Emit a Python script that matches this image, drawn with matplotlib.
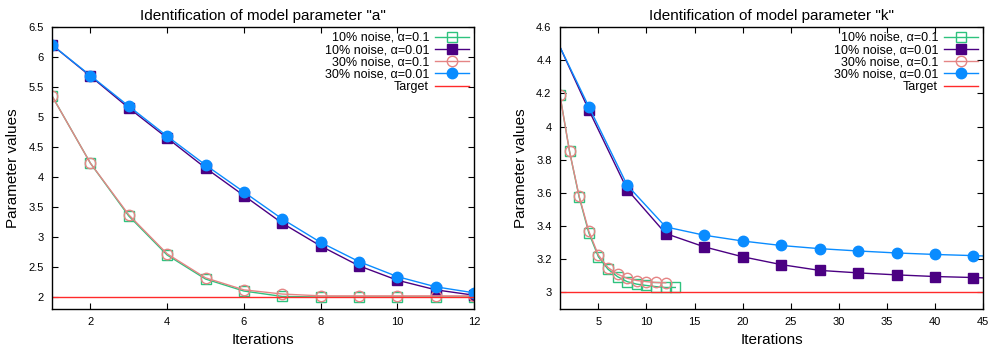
import matplotlib
matplotlib.use("Agg")
import matplotlib.pyplot as plt

plt.rcParams['font.family'] = ['Liberation Sans', 'DejaVu Sans']

labels = ["10% noise, α=0.1", "10% noise, α=0.01", "30% noise, α=0.1", "30% noise, α=0.01"]
colors = ["#2ec27e", "#4b0082", "#e58585", "#0a8cff"]
markers = ["s", "s", "o", "o"]
filled = [False, True, False, True]
target_color = "#ff2a2a"

# parameter "a"
a_iter = list(range(1, 13))
a_n10_a1 = [5.35, 4.23, 3.35, 2.70, 2.30, 2.10, 2.01, 2.00, 2.00, 2.00, 2.00, 2.00]
a_n10_a01 = [6.20, 5.68, 5.15, 4.65, 4.15, 3.69, 3.23, 2.85, 2.52, 2.28, 2.12, 2.03]
a_n30_a1 = [5.35, 4.23, 3.37, 2.72, 2.32, 2.12, 2.05, 2.02, 2.02, 2.02, 2.02, 2.02]
a_n30_a01 = [6.20, 5.69, 5.18, 4.68, 4.20, 3.75, 3.30, 2.91, 2.59, 2.34, 2.17, 2.07]
a_target = 2.0

# parameter "k"
k_iter_fast = list(range(1, 14))
k_n10_a1 = [4.19, 3.85, 3.575, 3.36, 3.215, 3.14, 3.095, 3.065, 3.05, 3.042, 3.035, 3.03, 3.03]
k_n30_a1 = [4.19, 3.85, 3.58, 3.37, 3.225, 3.15, 3.11, 3.085, 3.072, 3.065, 3.06, 3.058]
k_iter_slow = [1, 4, 8, 12, 16, 20, 24, 28, 32, 36, 40, 44, 45]
k_n10_a01 = [4.48, 4.10, 3.62, 3.355, 3.275, 3.215, 3.168, 3.133, 3.118, 3.106, 3.096, 3.090, 3.088]
k_n30_a01 = [4.48, 4.12, 3.646, 3.395, 3.345, 3.31, 3.283, 3.264, 3.25, 3.238, 3.229, 3.222, 3.22]
k_marked = list(range(1, 12))  # no marker on the first and last sample
k_target = 3.0


def style_axes(ax, title, xlim, ylim, xticks, yticks):
    ax.set_title(title, fontsize=11, pad=5)
    ax.set_xlim(*xlim)
    ax.set_ylim(*ylim)
    ax.set_xticks(xticks)
    ax.set_yticks(yticks)
    ax.set_yticklabels([f"{v:g}" for v in yticks])
    ax.tick_params(direction="in", top=True, right=True, labelsize=8, length=4, width=0.8, pad=6)
    for s in ax.spines.values():
        s.set_linewidth(1.0)
    ax.set_xlabel("Iterations", fontsize=11, labelpad=4)
    ax.set_ylabel("Parameter values", fontsize=11, labelpad=6)


def draw(ax, x, y, i, markevery=None):
    ax.plot(x, y, color=colors[i], lw=1.0, marker=markers[i], ms=7.5,
            markerfacecolor=colors[i] if filled[i] else "none",
            markeredgecolor=colors[i], markeredgewidth=1.0,
            markevery=markevery, label=labels[i])


fig = plt.figure(figsize=(9.91, 3.5), dpi=100)
ax1 = fig.add_axes([0.0525, 0.117, 0.426, 0.806])
ax2 = fig.add_axes([0.565, 0.117, 0.427, 0.806])

draw(ax1, a_iter, a_n10_a1, 0)
draw(ax1, a_iter, a_n10_a01, 1)
draw(ax1, a_iter, a_n30_a1, 2)
draw(ax1, a_iter, a_n30_a01, 3)
ax1.axhline(a_target, color=target_color, lw=1.0, label="Target")

draw(ax2, k_iter_fast, k_n10_a1, 0)
draw(ax2, k_iter_slow, k_n10_a01, 1, markevery=k_marked)
draw(ax2, k_iter_fast[:len(k_n30_a1)], k_n30_a1, 2)
draw(ax2, k_iter_slow, k_n30_a01, 3, markevery=k_marked)
ax2.axhline(k_target, color=target_color, lw=1.0, label="Target")

style_axes(ax1, 'Identification of model parameter "a"', (1, 12), (1.8, 6.5),
           [2, 4, 6, 8, 10, 12], [2, 2.5, 3, 3.5, 4, 4.5, 5, 5.5, 6, 6.5])
style_axes(ax2, 'Identification of model parameter "k"', (1, 45), (2.9, 4.6),
           [5, 10, 15, 20, 25, 30, 35, 40, 45], [3, 3.2, 3.4, 3.6, 3.8, 4, 4.2, 4.4, 4.6])

for ax in (ax1, ax2):
    ax.legend(loc="upper right", frameon=False, markerfirst=False, fontsize=9,
              handlelength=2.7, handletextpad=0.5, labelspacing=0.02,
              borderaxespad=0.2, borderpad=0.2)

fig.savefig("out.png", dpi=100)
